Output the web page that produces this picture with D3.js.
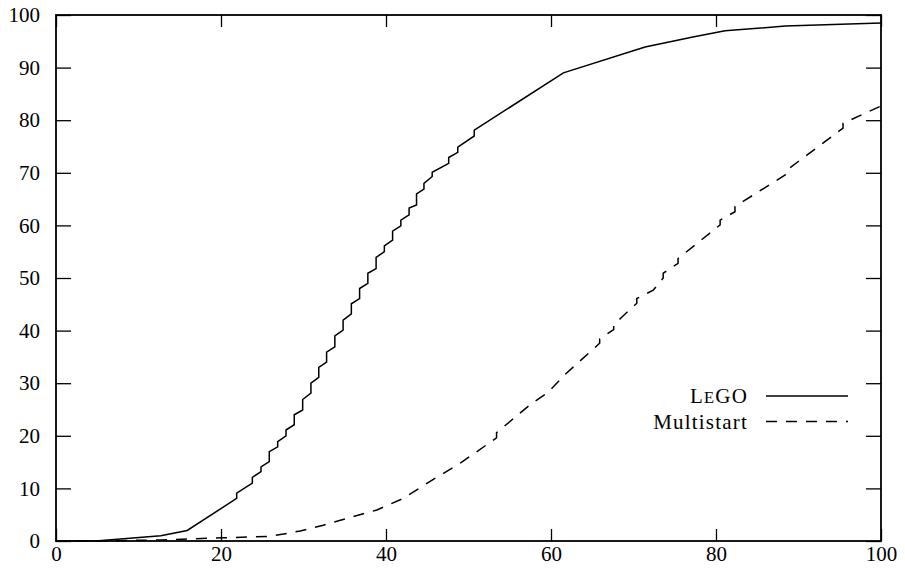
<!DOCTYPE html>
<html>
<head>
<meta charset="utf-8">
<script src="https://cdn.jsdelivr.net/npm/d3@7"></script>
<style>
  body { margin: 0; background: #fff; }
  text { font-family: "Liberation Serif", "DejaVu Serif", serif; fill: #000; }
</style>
</head>
<body>
<div class="canvas"></div>
<script>
// tick values
const xTicks = [0, 20, 40, 60, 80, 100]
const yTicks = [0, 10, 20, 30, 40, 50, 60, 70, 80, 90, 100]

// LeGO curve (x, y), steps have repeated x
const legoX = [0, 4.8, 12.7, 15.9, 21.9, 21.9, 23.8, 23.8, 24.85, 24.85, 25.85, 25.85,
  26.87, 26.87, 27.88, 27.88, 28.88, 28.88, 29.9, 29.9, 30.9, 30.9, 31.85, 31.85,
  32.8, 32.8, 33.8, 33.8, 34.8, 34.8, 35.8, 35.8, 36.8, 36.8, 37.8, 37.8, 38.8, 38.8,
  39.8, 39.8, 40.8, 40.8, 41.8, 41.8, 42.8, 42.8, 43.7, 43.7, 44.6, 44.6, 45.6, 45.6,
  47.6, 47.6, 48.7, 48.7, 50.7, 50.7, 61.5, 71.4, 77.2, 81.1, 88.4, 100]
const legoY = [0, 0, 1.0, 2.0, 8.1, 9.1, 11.0, 12.1, 13.2, 14.1, 15.1, 17.0,
  17.9, 18.9, 20.0, 21.1, 22.1, 24.0, 24.9, 26.9, 28.1, 30.0, 31.1, 33.0,
  34.0, 35.9, 36.9, 39.0, 40.1, 42.0, 43.2, 45.1, 46.1, 48.0, 49.0, 50.9, 51.8, 53.9,
  55.0, 56.1, 57.2, 58.9, 59.9, 61.0, 62.0, 63.3, 63.9, 66.0, 66.9, 68.0, 69.3, 70.1,
  71.8, 72.9, 73.9, 74.9, 77.0, 78.1, 89.0, 93.9, 95.8, 97.0, 97.9, 98.5]

// Multistart curve
const multiX = [0, 4.8, 12.7, 20.1, 26.0, 29.6, 32.4, 35.5, 38.9, 42.1, 45.3, 49.0,
  53.4, 53.4, 57.7, 59.6, 61.8, 65.9, 65.9, 67.6, 67.6, 68.6, 70.4, 70.4, 72.4,
  73.6, 73.6, 75.4, 75.4, 80.5, 80.5, 82.3, 82.3, 88.4, 88.4, 95.4, 95.4, 100]
const multiY = [0, 0, 0.2, 0.6, 0.9, 1.9, 3.0, 4.4, 5.9, 8.1, 11.3, 14.8,
  19.6, 20.6, 26.2, 28.2, 31.8, 37.6, 38.4, 40.2, 41.0, 42.6, 45.2, 46.1, 47.7,
  50.0, 50.9, 52.8, 53.7, 60.1, 61.0, 62.6, 63.6, 69.6, 70.3, 78.5, 79.4, 82.7]

const seriesNames = ['LeGO', 'Multistart']

const width = 905, height = 578
const plot = { left: 56, right: 881, top: 15, bottom: 541 }

const svg = d3.select('.canvas')
    .append('svg')
    .attr('width', width)
    .attr('height', height)

const x = d3.scaleLinear().domain([0, 100]).range([plot.left, plot.right])
const y = d3.scaleLinear().domain([0, 100]).range([plot.bottom, plot.top])

// axes, ticks pointing inward and mirrored
const axisBottom = d3.axisBottom(x).tickValues(xTicks).tickSizeInner(-12).tickSizeOuter(0).tickPadding(5)
const axisTop = d3.axisTop(x).tickValues(xTicks).tickSizeInner(-12).tickSizeOuter(0).tickFormat('')
const axisLeft = d3.axisLeft(y).tickValues(yTicks).tickSizeInner(-15).tickSizeOuter(0).tickPadding(16)
const axisRight = d3.axisRight(y).tickValues(yTicks).tickSizeInner(-15).tickSizeOuter(0).tickFormat('')

const styleAxis = g => {
    g.select('.domain').remove()
    g.selectAll('line').attr('stroke', '#000').attr('stroke-width', 1.3)
    g.selectAll('text').attr('font-size', 21).attr('font-family', '"Liberation Serif", serif')
}

svg.append('g').attr('transform', `translate(0,${plot.bottom})`).call(axisBottom).call(styleAxis)
svg.append('g').attr('transform', `translate(0,${plot.top})`).call(axisTop).call(styleAxis)
svg.append('g').attr('transform', `translate(${plot.left},0)`).call(axisLeft).call(styleAxis)
svg.append('g').attr('transform', `translate(${plot.right},0)`).call(axisRight).call(styleAxis)

// lines
const line = d3.line().x(d => x(d[0])).y(d => y(d[1]))
const lego = d3.zip(legoX, legoY)
const multi = d3.zip(multiX, multiY)

svg.append('path')
    .attr('d', line(multi))
    .attr('fill', 'none')
    .attr('stroke', '#000')
    .attr('stroke-width', 1.5)
    .attr('stroke-dasharray', '11,9')

svg.append('path')
    .attr('d', line(lego))
    .attr('fill', 'none')
    .attr('stroke', '#000')
    .attr('stroke-width', 1.5)

// frame
svg.append('rect')
    .attr('x', plot.left)
    .attr('y', plot.top)
    .attr('width', plot.right - plot.left)
    .attr('height', plot.bottom - plot.top)
    .attr('fill', 'none')
    .attr('stroke', '#000')
    .attr('stroke-width', 1.8)

// legend
const legend = svg.append('g')
const legendRows = [
    { name: seriesNames[0], y: 396, dash: null },
    { name: seriesNames[1], y: 421.5, dash: '11,9' }
]

legendRows.forEach((r, i) => {
    const t = legend.append('text')
        .attr('x', 748)
        .attr('y', r.y)
        .attr('dy', '0.35em')
        .attr('text-anchor', 'end')
        .attr('font-size', 21)
        .attr('letter-spacing', 1.2)
    if (i === 0) {
        // small caps LeGO
        t.append('tspan').text('L')
        t.append('tspan').attr('font-size', 16.5).text('E')
        t.append('tspan').text('GO')
    } else {
        t.text(r.name)
    }
    legend.append('line')
        .attr('x1', 766).attr('x2', 848)
        .attr('y1', r.y).attr('y2', r.y)
        .attr('stroke', '#000')
        .attr('stroke-width', 1.5)
        .attr('stroke-dasharray', r.dash)
})
</script>
</body>
</html>
